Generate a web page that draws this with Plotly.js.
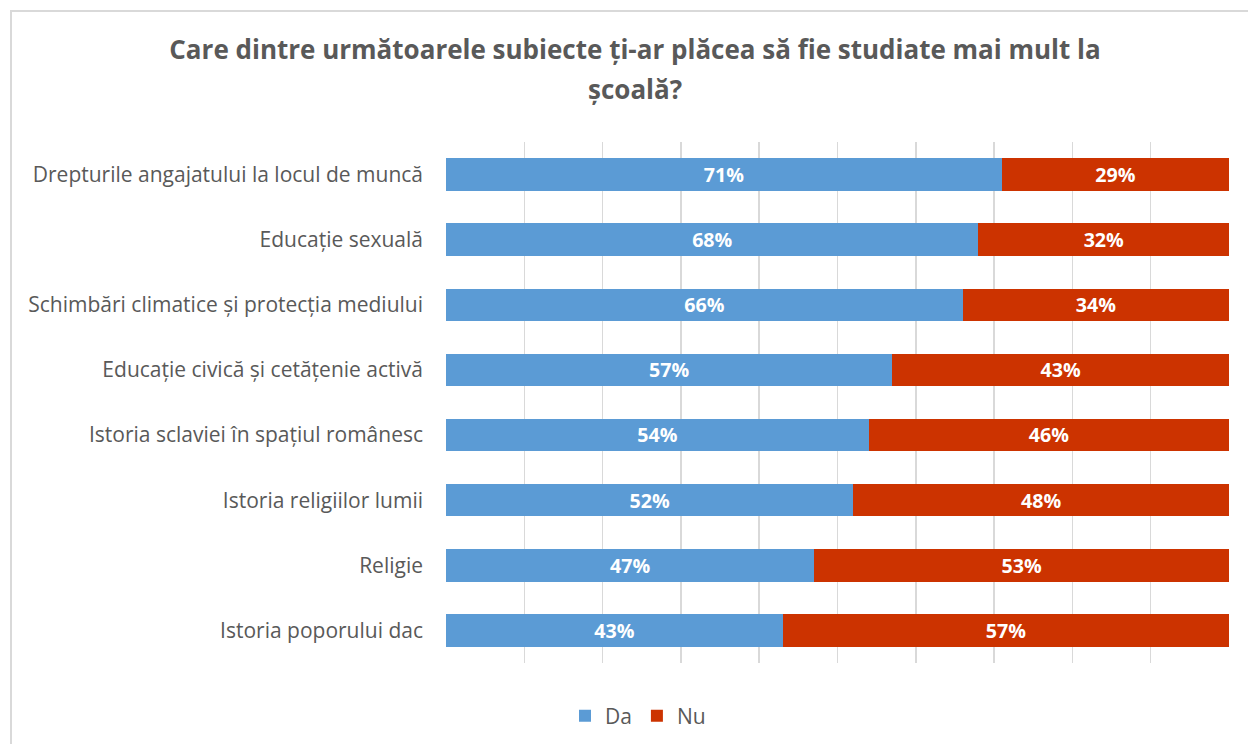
<!DOCTYPE html>
<html>
<head>
<meta charset="utf-8">
<script src="https://cdn.plot.ly/plotly-3.0.1.min.js"></script>
<style>
html,body{margin:0;padding:0;background:#fff;}
#wrap{position:relative;width:1248px;height:744px;overflow:hidden;}
#chart{width:1248px;height:744px;}
#frame{position:absolute;left:10px;top:10px;width:1300px;height:800px;border:2px solid #D9D9D9;box-sizing:border-box;pointer-events:none;}
</style>
</head>
<body>
<div id="wrap"><div id="chart"></div><div id="frame"></div></div>
<script>
const categories = [
  "Drepturile angajatului la locul de muncă",
  "Educație sexuală",
  "Schimbări climatice și protecția mediului",
  "Educație civică și cetățenie activă",
  "Istoria sclaviei în spațiul românesc",
  "Istoria religiilor lumii",
  "Religie",
  "Istoria poporului dac"
];
const da = [71, 68, 66, 57, 54, 52, 47, 43];
const nu = [29, 32, 34, 43, 46, 48, 53, 57];
const seriesNames = ["Da", "Nu"];
const titleLine1 = "Care dintre următoarele subiecte ți-ar plăcea să fie studiate mai mult la";
const titleLine2 = "școală?";

const FONT = "'Open Sans', sans-serif";
const barText = {family: FONT, size: 20, color: "#FFFFFF", weight: 700};
const titleFont = {family: FONT, size: 26, color: "#595959", weight: 700};

const traces = [
  {type: "bar", orientation: "h", name: seriesNames[0], y: categories, x: da,
   marker: {color: "#5B9BD5"}, text: da.map(v => v + "%"), textposition: "inside",
   insidetextanchor: "middle", textfont: barText, hoverinfo: "skip"},
  {type: "bar", orientation: "h", name: seriesNames[1], y: categories, x: nu,
   marker: {color: "#CC3300"}, text: nu.map(v => v + "%"), textposition: "inside",
   insidetextanchor: "middle", textfont: barText, hoverinfo: "skip"}
];

const layout = {
  width: 1248, height: 744,
  barmode: "stack", bargap: 0.5,
  paper_bgcolor: "#FFFFFF", plot_bgcolor: "#FFFFFF",
  margin: {l: 446, r: 19, t: 142, b: 81},
  font: {family: FONT, color: "#595959", size: 20},
  title: {text: titleLine1, x: 635 / 1248, xanchor: "center", y: 1 - 50 / 744, yanchor: "middle",
          font: titleFont},
  annotations: [
    {text: titleLine2, xref: "paper", yref: "paper", x: (635 - 446) / 783, y: 1 + (142 - 89) / 521,
     xanchor: "center", yanchor: "middle", showarrow: false, font: titleFont}
  ],
  xaxis: {range: [0, 100], dtick: 10, showgrid: true, gridcolor: "#D9D9D9", gridwidth: 1.5,
          zeroline: false, showticklabels: false, showline: false, fixedrange: true},
  yaxis: {autorange: "reversed", showgrid: false, zeroline: false, showline: false,
          ticks: "", ticklabelstandoff: 22, tickfont: {family: FONT, size: 21, color: "#595959"}},
  legend: {orientation: "h", xref: "container", yref: "container", x: 638 / 1248, xanchor: "center",
           y: 1 - 716 / 744, yanchor: "middle",
           font: {family: FONT, size: 21, color: "#595959"}, traceorder: "normal",
           itemwidth: 30},
  showlegend: true
};

Plotly.newPlot("chart", traces, layout, {displayModeBar: false, staticPlot: true});
</script>
</body>
</html>
